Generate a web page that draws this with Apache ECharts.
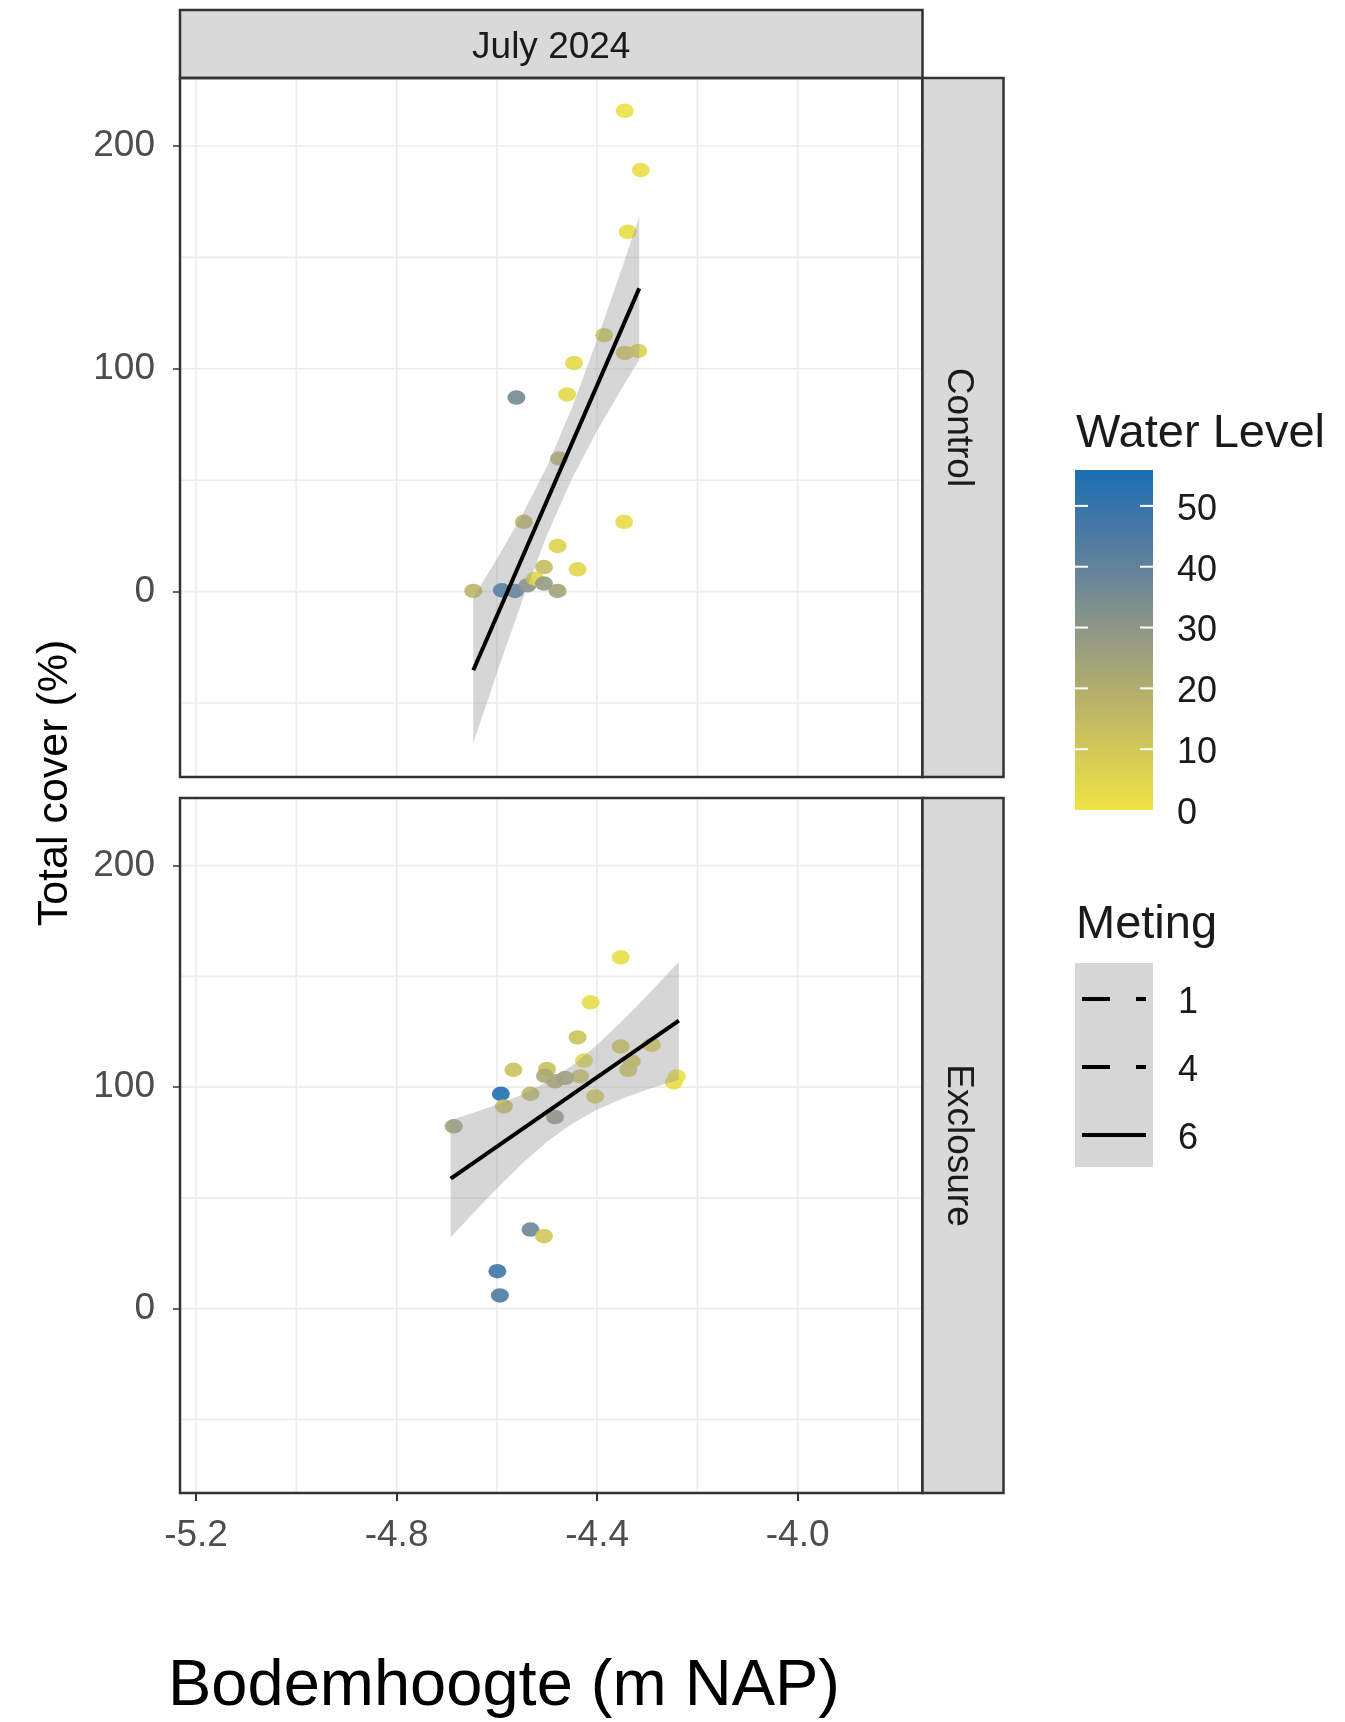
<!DOCTYPE html>
<html>
<head>
<meta charset="utf-8">
<script src="https://cdn.jsdelivr.net/npm/echarts@6/dist/echarts.min.js"></script>
<style>
html,body{margin:0;padding:0;background:#fff;}
#chart{width:1345px;height:1722px;}
</style>
</head>
<body>
<div id="chart"></div>
<script>
// ---------- data ----------
const facetTitle = 'July 2024';
const panelNames = ['Control', 'Exclosure'];

const ctrlX = [-4.345, -4.313, -4.339, -4.386, -4.345, -4.318, -4.446, -4.561, -4.460, -4.476, -4.546, -4.346, -4.479, -4.506, -4.439, -4.647, -4.590, -4.564, -4.539, -4.524, -4.506, -4.479];
const ctrlY = [215.8, 189.2, 161.5, 115.1, 107.1, 108.0, 102.6, 87.1, 88.5, 59.7, 31.3, 31.3, 20.5, 11.0, 10.0, 0.3, 0.6, 0.3, 2.8, 5.8, 3.6, 0.3];
const ctrlW = [1, 2, 3, 11, 11, 7, 4, 36, 4, 20, 17, 3, 6, 14, 5, 17, 52, 45, 31, 5, 28, 24];

const exclX = [-4.353, -4.413, -4.439, -4.426, -4.353, -4.331, -4.338, -4.291, -4.434, -4.567, -4.500, -4.504, -4.484, -4.464, -4.592, -4.533, -4.586, -4.404, -4.686, -4.484, -4.241, -4.247, -4.533, -4.506, -4.599, -4.594];
const exclY = [158.6, 138.3, 122.4, 112.0, 118.3, 111.6, 107.8, 119.1, 104.8, 107.8, 108.2, 105.1, 102.6, 104.1, 97.0, 97.0, 91.3, 95.8, 82.3, 86.5, 104.8, 102.1, 35.7, 32.7, 16.9, 6.0];
const exclW = [2, 3, 12, 4, 10, 10, 11, 8, 12, 12, 13, 22, 21, 23, 55, 16, 14, 9, 25, 30, 1, 2, 38, 10, 48, 45];

// fitted line (Meting 6) and its confidence band
const ctrlFitX = [-4.647, -4.316];
const ctrlFitY = [-35.3, 136.1];
const ctrlBandX  = [-4.647, -4.60, -4.55, -4.50, -4.45, -4.40, -4.35, -4.316];
const ctrlBandLo = [-67.8, -36.6, -4.4, 25.4, 50.8, 72.2, 91.5, 104.0];
const ctrlBandHi = [-2.8, 14.6, 34.2, 56.2, 82.6, 113.0, 145.5, 168.2];

const exclFitX = [-4.692, -4.237];
const exclFitY = [58.7, 130.0];
const exclBandX  = [-4.692, -4.65, -4.60, -4.55, -4.50, -4.45, -4.40, -4.35, -4.30, -4.237];
const exclBandLo = [32.2, 42.4, 54.2, 65.4, 75.3, 83.5, 89.9, 94.8, 98.9, 103.4];
const exclBandHi = [85.2, 88.2, 92.0, 96.6, 102.3, 109.7, 119.1, 129.8, 141.3, 156.6];

// axes
const xMin = -5.232, xMax = -3.751;
const yMin = -83.2, yMax = 230.5;
const xTicks = [-5.2, -4.8, -4.4, -4.0];
const xGridVals = [-5.2, -5.0, -4.8, -4.6, -4.4, -4.2, -4.0, -3.8];
const yTicks = [0, 100, 200];
const yGridVals = [-50, 0, 50, 100, 150, 200];

// colour scale (Water Level)
const wMin = 0, wMax = 55.9;
const wTicks = [0, 10, 20, 30, 40, 50];
const wColors = ['#efe443', '#d3ca56', '#b6b06a', '#959b82', '#6e8796', '#4678a5', '#1a6fb3'];

// linetype legend
const metingLevels = ['1', '4', '6'];
const metingDash = [[28, 26], [28, 26], null];

// ---------- layout ----------
const FONT = "'Liberation Sans', Arial, Helvetica, sans-serif";
const L = 180, R = 922.5;
const panels = [{top: 78, bottom: 777}, {top: 798, bottom: 1493}];
const stripTop = 10, stripRightW = 81;
const BORDER = '#333333', STRIP = '#d9d9d9';

const chart = echarts.init(document.getElementById('chart'), null, {renderer: 'canvas'});

const grids = panels.map(p => ({left: L, top: p.top, width: R - L, height: p.bottom - p.top, show: false}));

const xAxes = panels.map((p, i) => ({
  type: 'value', gridIndex: i, min: xMin, max: xMax,
  axisLine: {show: false, onZero: false},
  splitLine: {show: false},
  axisTick: {show: i === 1, customValues: xTicks, length: 8, lineStyle: {color: BORDER, width: 2}},
  axisLabel: {show: i === 1, customValues: xTicks, margin: 24, fontSize: 37, color: '#4d4d4d', fontFamily: FONT,
    formatter: v => v.toFixed(1)}
}));
const yAxes = panels.map((p, i) => ({
  type: 'value', gridIndex: i, min: yMin, max: yMax,
  axisLine: {show: false, onZero: false},
  splitLine: {show: false},
  axisTick: {show: true, customValues: yTicks, length: 7, lineStyle: {color: BORDER, width: 1.5}},
  axisLabel: {customValues: yTicks, margin: 25, fontSize: 37, color: '#4d4d4d', fontFamily: FONT}
}));

function gridLineSeries(i) {
  return [
    {type: 'custom', xAxisIndex: i, yAxisIndex: i, silent: true, z: 1,
      data: xGridVals.map(v => [v, 0]),
      renderItem: (params, api) => {
        const cs = params.coordSys; const p = api.coord([api.value(0), 0]);
        return {type: 'line', shape: {x1: p[0], y1: cs.y, x2: p[0], y2: cs.y + cs.height},
          style: {stroke: '#ebebeb', lineWidth: 1.6}};
      }},
    {type: 'custom', xAxisIndex: i, yAxisIndex: i, silent: true, z: 1,
      data: yGridVals.map(v => [-4.5, v]),
      renderItem: (params, api) => {
        const cs = params.coordSys; const p = api.coord([-4.5, api.value(1)]);
        return {type: 'line', shape: {x1: cs.x, y1: p[1], x2: cs.x + cs.width, y2: p[1]},
          style: {stroke: '#ebebeb', lineWidth: 1.6}};
      }}
  ];
}

const ELLIPSE = 'path://M1,0A1,1,0,1,1,-1,0A1,1,0,1,1,1,0Z';

function panelSeries(i, xs, ys, ws, fx, fy, bx, blo, bhi) {
  return [
    ...gridLineSeries(i),
    {type: 'scatter', xAxisIndex: i, yAxisIndex: i, z: 2, symbol: ELLIPSE, symbolSize: [18, 14.5],
      itemStyle: {opacity: 0.9}, silent: true,
      data: xs.map((x, k) => [x, ys[k], ws[k]])},
    {type: 'custom', xAxisIndex: i, yAxisIndex: i, z: 3, silent: true,
      data: [[bx[0], blo[0]]],
      renderItem: (params, api) => {
        const pts = [];
        for (let k = 0; k < bx.length; k++) pts.push(api.coord([bx[k], bhi[k]]));
        for (let k = bx.length - 1; k >= 0; k--) pts.push(api.coord([bx[k], blo[k]]));
        return {type: 'polygon', shape: {points: pts}, style: {fill: 'rgba(153,153,153,0.4)'}};
      }},
    {type: 'line', xAxisIndex: i, yAxisIndex: i, z: 4, silent: true, showSymbol: false,
      lineStyle: {color: '#000', width: 4},
      data: fx.map((x, k) => [x, fy[k]])}
  ];
}

const series = [
  ...panelSeries(0, ctrlX, ctrlY, ctrlW, ctrlFitX, ctrlFitY, ctrlBandX, ctrlBandLo, ctrlBandHi),
  ...panelSeries(1, exclX, exclY, exclW, exclFitX, exclFitY, exclBandX, exclBandLo, exclBandHi)
];
const scatterIdx = series.map((s, k) => s.type === 'scatter' ? k : -1).filter(k => k >= 0);

// ---------- graphic: strips, borders, titles, legends ----------
const g = [];
// top strip
g.push({type: 'rect', z: 100, shape: {x: L, y: stripTop, width: R - L, height: panels[0].top - stripTop},
  style: {fill: STRIP, stroke: BORDER, lineWidth: 2.5}});
g.push({type: 'text', z: 101, x: (L + R) / 2, y: (stripTop + panels[0].top) / 2 + 4,
  style: {text: facetTitle, font: `37px ${FONT}`, fill: '#1a1a1a', align: 'center', verticalAlign: 'middle'}});
panels.forEach((p, i) => {
  g.push({type: 'rect', z: 100, shape: {x: L, y: p.top, width: R - L, height: p.bottom - p.top},
    style: {fill: 'none', stroke: BORDER, lineWidth: 2.5}});
  g.push({type: 'rect', z: 100, shape: {x: R, y: p.top, width: stripRightW, height: p.bottom - p.top},
    style: {fill: STRIP, stroke: BORDER, lineWidth: 2.5}});
  g.push({type: 'text', z: 101, x: R + stripRightW / 2 - 5, y: (p.top + p.bottom) / 2, rotation: -Math.PI / 2,
    style: {text: panelNames[i], font: `37px ${FONT}`, fill: '#1a1a1a', align: 'center', verticalAlign: 'middle'}});
});
// axis titles
g.push({type: 'text', z: 101, x: 55, y: 783, rotation: Math.PI / 2,
  style: {text: 'Total cover (%)', font: `43px ${FONT}`, fill: '#000', align: 'center', verticalAlign: 'middle'}});
g.push({type: 'text', z: 101, x: 504, y: 1687,
  style: {text: 'Bodemhoogte (m NAP)', font: `65px ${FONT}`, fill: '#000', align: 'center', verticalAlign: 'middle'}});

// Water Level colourbar
const lgX = 1075, barW = 78, barTop = 470, barBottom = 810;
g.push({type: 'text', z: 101, x: lgX + 1, y: 434,
  style: {text: 'Water Level', font: `47px ${FONT}`, fill: '#1a1a1a', align: 'left', verticalAlign: 'middle'}});
const stops = wColors.map((c, k) => ({offset: 1 - k / (wColors.length - 1), color: c})).reverse();
g.push({type: 'rect', z: 100, shape: {x: lgX, y: barTop, width: barW, height: barBottom - barTop},
  style: {fill: new echarts.graphic.LinearGradient(0, 0, 0, 1, stops)}});
wTicks.forEach(v => {
  const y = barBottom - (v - wMin) / (wMax - wMin) * (barBottom - barTop);
  if (v > wMin) {
    g.push({type: 'line', z: 101, shape: {x1: lgX, y1: y, x2: lgX + 13, y2: y}, style: {stroke: '#fff', lineWidth: 2}});
    g.push({type: 'line', z: 101, shape: {x1: lgX + barW - 13, y1: y, x2: lgX + barW, y2: y}, style: {stroke: '#fff', lineWidth: 2}});
  }
  g.push({type: 'text', z: 101, x: 1177, y: y + 4,
    style: {text: String(v), font: `36px ${FONT}`, fill: '#1a1a1a', align: 'left', verticalAlign: 'middle'}});
});

// Meting legend
const mTop = 963, keyH = 68;
g.push({type: 'text', z: 101, x: lgX + 1, y: 925,
  style: {text: 'Meting', font: `47px ${FONT}`, fill: '#1a1a1a', align: 'left', verticalAlign: 'middle'}});
g.push({type: 'rect', z: 100, shape: {x: lgX, y: mTop, width: barW, height: keyH * metingLevels.length},
  style: {fill: '#d6d6d6'}});
metingLevels.forEach((lv, k) => {
  const y = mTop + 36 + k * keyH;
  g.push({type: 'line', z: 101, shape: {x1: lgX + 7, y1: y, x2: lgX + barW - 7, y2: y},
    style: {stroke: '#000', lineWidth: 4, lineDash: metingDash[k] || null}});
  g.push({type: 'text', z: 101, x: 1178, y: y + 4,
    style: {text: lv, font: `36px ${FONT}`, fill: '#1a1a1a', align: 'left', verticalAlign: 'middle'}});
});

chart.setOption({
  backgroundColor: '#ffffff',
  animation: false,
  grid: grids,
  xAxis: xAxes,
  yAxis: yAxes,
  visualMap: [{type: 'continuous', show: false, dimension: 2, min: wMin, max: wMax,
    seriesIndex: scatterIdx, inRange: {color: wColors}}],
  series: series,
  graphic: g
});
</script>
</body>
</html>
